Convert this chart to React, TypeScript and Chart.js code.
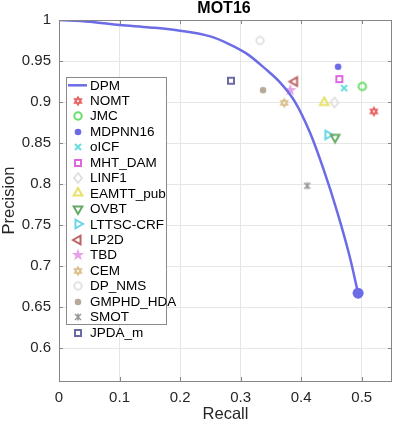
import React, { useEffect, useRef } from 'react';
import { Chart, registerables } from 'chart.js';
Chart.register(...registerables);

const chartTitle = 'MOT16';
const xTitle = 'Recall';
const yTitle = 'Precision';
const xTickValues = [0, 0.1, 0.2, 0.3, 0.4, 0.5];
const yTickValues = [0.6, 0.65, 0.7, 0.75, 0.8, 0.85, 0.9, 0.95, 1];

const dpmLabel = 'DPM';
const dpmColor = '#6c6ce6';
const dpmRecall = [0, 0.05, 0.1, 0.15, 0.2, 0.25, 0.28, 0.31, 0.34, 0.365, 0.39, 0.415, 0.436, 0.46, 0.48, 0.494];
const dpmPrecision = [1, 0.998, 0.994, 0.991, 0.987, 0.98, 0.971, 0.959, 0.941, 0.924, 0.9, 0.862, 0.82, 0.765, 0.712, 0.667];

const methods = ['NOMT', 'JMC', 'MDPNN16', 'oICF', 'MHT_DAM', 'LINF1', 'EAMTT_pub', 'OVBT', 'LTTSC-CRF', 'LP2D', 'TBD', 'CEM', 'DP_NMS', 'GMPHD_HDA', 'SMOT', 'JPDA_m'];
const recall = [0.52, 0.501, 0.461, 0.471, 0.463, 0.455, 0.438, 0.456, 0.444, 0.389, 0.382, 0.372, 0.332, 0.337, 0.41, 0.284];
const precision = [0.8885, 0.919, 0.943, 0.917, 0.928, 0.8995, 0.8995, 0.857, 0.86, 0.925, 0.9145, 0.899, 0.975, 0.9145, 0.798, 0.926];
const colors = ['#e86464', '#66dd66', '#6a6ae6', '#66dddd', '#e066e0', '#dcdcdc', '#e6e266', '#66aa66', '#66d6e6', '#bb6262', '#e6a2e6', '#dcc08e', '#e2e2e2', '#b8a898', '#9a9a9a', '#6a6aa6'];
const shapes = ['hexagram', 'circleOpen', 'circleFilled', 'x', 'square', 'diamond', 'triUp', 'triDown', 'triRight', 'triLeft', 'pentagram', 'hexagram', 'circleOpen', 'circleFilled', 'asterisk', 'square'];

function makeMarker(shape: string, color: string): HTMLCanvasElement {
  const c = document.createElement('canvas');
  c.width = 16;
  c.height = 16;
  const ctx = c.getContext('2d')!;
  ctx.translate(8, 8);
  ctx.strokeStyle = color;
  ctx.fillStyle = color;
  ctx.lineWidth = 2;
  ctx.lineJoin = 'miter';
  const tri = (angle0: number, r: number) => {
    ctx.beginPath();
    for (let i = 0; i < 3; i++) {
      const a = ((angle0 + i * 120) * Math.PI) / 180;
      const px = r * Math.cos(a);
      const py = r * Math.sin(a);
      if (i === 0) ctx.moveTo(px, py);
      else ctx.lineTo(px, py);
    }
    ctx.closePath();
  };
  switch (shape) {
    case 'hexagram': {
      tri(-90, 5.5);
      ctx.fill();
      tri(90, 5.5);
      ctx.fill();
      ctx.fillStyle = 'rgba(255,255,255,0.8)';
      ctx.beginPath();
      ctx.arc(0, 0, 1.2, 0, Math.PI * 2);
      ctx.fill();
      break;
    }
    case 'circleOpen':
      ctx.beginPath();
      ctx.arc(0, 0, 3.7, 0, Math.PI * 2);
      ctx.stroke();
      break;
    case 'circleFilled':
      ctx.beginPath();
      ctx.arc(0, 0, 3.3, 0, Math.PI * 2);
      ctx.fill();
      break;
    case 'x':
      ctx.beginPath();
      ctx.moveTo(-3, -3);
      ctx.lineTo(3, 3);
      ctx.moveTo(3, -3);
      ctx.lineTo(-3, 3);
      ctx.stroke();
      break;
    case 'asterisk':
      ctx.lineWidth = 1.6;
      ctx.beginPath();
      ctx.moveTo(-3, -3);
      ctx.lineTo(3, 3);
      ctx.moveTo(3, -3);
      ctx.lineTo(-3, 3);
      ctx.moveTo(0, -3.5);
      ctx.lineTo(0, 3.5);
      ctx.stroke();
      break;
    case 'square':
      ctx.strokeRect(-3, -3, 6, 6);
      break;
    case 'diamond':
      ctx.lineWidth = 1.6;
      ctx.beginPath();
      ctx.moveTo(0, -5);
      ctx.lineTo(4, 0);
      ctx.lineTo(0, 5);
      ctx.lineTo(-4, 0);
      ctx.closePath();
      ctx.stroke();
      break;
    case 'triUp':
      tri(-90, 5);
      ctx.stroke();
      break;
    case 'triDown':
      tri(90, 5);
      ctx.stroke();
      break;
    case 'triRight':
      tri(0, 5);
      ctx.stroke();
      break;
    case 'triLeft':
      tri(180, 5);
      ctx.stroke();
      break;
    case 'pentagram': {
      ctx.beginPath();
      for (let i = 0; i < 10; i++) {
        const r = i % 2 === 0 ? 6.5 : 2.6;
        const a = ((-90 + i * 36) * Math.PI) / 180;
        const px = r * Math.cos(a);
        const py = r * Math.sin(a);
        if (i === 0) ctx.moveTo(px, py);
        else ctx.lineTo(px, py);
      }
      ctx.closePath();
      ctx.fill();
      break;
    }
  }
  return c;
}

const FONT = '"Liberation Sans", Arial, Helvetica, sans-serif';

export default function App() {
  const ref = useRef<HTMLCanvasElement | null>(null);
  useEffect(() => {
    if (!ref.current) return;
    const markers = methods.map((_, i) => makeMarker(shapes[i], colors[i]));

    const decor = {
      id: 'decor',
      afterDraw(chart: any) {
        const ctx = chart.ctx as CanvasRenderingContext2D;
        const a = chart.chartArea;
        const xs = chart.scales.x;
        const ys = chart.scales.y;
        ctx.save();
        // frame
        ctx.strokeStyle = '#868686';
        ctx.lineWidth = 1;
        ctx.strokeRect(Math.round(a.left) + 0.5, Math.round(a.top) + 0.5, Math.round(a.right - a.left) - 1, Math.round(a.bottom - a.top));
        // inward ticks
        ctx.beginPath();
        xTickValues.forEach((v) => {
          const px = Math.round(xs.getPixelForValue(v)) + 0.5;
          ctx.moveTo(px, a.bottom);
          ctx.lineTo(px, a.bottom - 4);
          ctx.moveTo(px, a.top);
          ctx.lineTo(px, a.top + 4);
        });
        yTickValues.forEach((v) => {
          const py = Math.round(ys.getPixelForValue(v)) + 0.5;
          ctx.moveTo(a.left, py);
          ctx.lineTo(a.left + 4, py);
          ctx.moveTo(a.right, py);
          ctx.lineTo(a.right - 4, py);
        });
        ctx.stroke();
        // titles
        ctx.fillStyle = '#000';
        ctx.font = `bold 16px ${FONT}`;
        ctx.textAlign = 'center';
        ctx.textBaseline = 'alphabetic';
        ctx.fillText(chartTitle, 224, 13);
        ctx.fillStyle = '#262626';
        ctx.font = `16.5px ${FONT}`;
        ctx.fillText(xTitle, (a.left + a.right) / 2, 419);
        ctx.save();
        ctx.translate(14, (a.top + a.bottom) / 2);
        ctx.rotate(-Math.PI / 2);
        ctx.fillText(yTitle, 0, 0);
        ctx.restore();
        // legend
        const lx = 66, ly = 77, lw = 100, lh = 247;
        ctx.fillStyle = '#fff';
        ctx.fillRect(lx, ly, lw, lh);
        ctx.strokeStyle = '#8a8a8a';
        ctx.strokeRect(lx + 0.5, ly + 0.5, lw, lh);
        const rowY = (i: number) => 85.3 + i * 15.45;
        ctx.font = `13.5px ${FONT}`;
        ctx.textAlign = 'left';
        ctx.textBaseline = 'middle';
        ctx.fillStyle = '#000';
        ctx.strokeStyle = dpmColor;
        ctx.lineWidth = 2.5;
        ctx.beginPath();
        ctx.moveTo(68, rowY(0));
        ctx.lineTo(87, rowY(0));
        ctx.stroke();
        ctx.fillText(dpmLabel, 90, rowY(0) + 0.5);
        methods.forEach((m, i) => {
          const y = rowY(i + 1);
          ctx.drawImage(markers[i], 78 - 8, Math.round(y) - 8);
          ctx.fillText(m, 90, y + 0.5);
        });
        ctx.restore();
      },
    };

    const chart = new Chart(ref.current, {
      type: 'scatter',
      data: {
        datasets: [
          {
            label: dpmLabel,
            data: dpmRecall.map((x, i) => ({ x, y: dpmPrecision[i] })),
            showLine: true,
            borderColor: dpmColor,
            backgroundColor: dpmColor,
            borderWidth: 2.5,
            cubicInterpolationMode: 'monotone',
            pointRadius: dpmRecall.map((_, i) => (i === dpmRecall.length - 1 ? 5.5 : 0)),
            pointBackgroundColor: dpmColor,
            pointBorderWidth: 0,
          } as any,
          ...methods.map((m, i) => ({
            label: m,
            data: [{ x: recall[i], y: precision[i] }],
            pointStyle: markers[i],
            pointRadius: 6,
          })),
        ],
      },
      options: {
        animation: false,
        responsive: false,
        events: [],
        layout: { padding: { top: 20, right: 1, left: 0, bottom: 0 } },
        plugins: { legend: { display: false }, tooltip: { enabled: false }, title: { display: false } },
        scales: {
          x: {
            type: 'linear',
            min: 0,
            max: 0.55,
            afterBuildTicks: (s: any) => {
              s.ticks = xTickValues.map((v) => ({ value: v }));
            },
            afterFit: (s: any) => {
              s.height = 41;
            },
            ticks: {
              font: { family: FONT, size: 15 },
              color: '#262626',
              padding: 8,
              maxRotation: 0,
              callback: (v: any) => String(Number(v)),
            },
            grid: { color: '#e6e6e6', drawTicks: false },
            border: { display: false },
          },
          y: {
            type: 'linear',
            min: 0.56,
            max: 1,
            afterBuildTicks: (s: any) => {
              s.ticks = yTickValues.map((v) => ({ value: v }));
            },
            afterFit: (s: any) => {
              s.width = 59;
            },
            ticks: {
              font: { family: FONT, size: 15 },
              color: '#262626',
              padding: 8,
              callback: (v: any) => String(Number(v)),
            },
            grid: { color: '#e6e6e6', drawTicks: false },
            border: { display: false },
          },
        },
      },
      plugins: [decor],
    });
    return () => chart.destroy();
  }, []);

  return (
    <div style={{ position: 'fixed', left: 0, top: 0, width: 399, height: 422, background: '#fff' }}>
      <canvas ref={ref} width={399} height={422} style={{ width: 399, height: 422, display: 'block' }} />
    </div>
  );
}
